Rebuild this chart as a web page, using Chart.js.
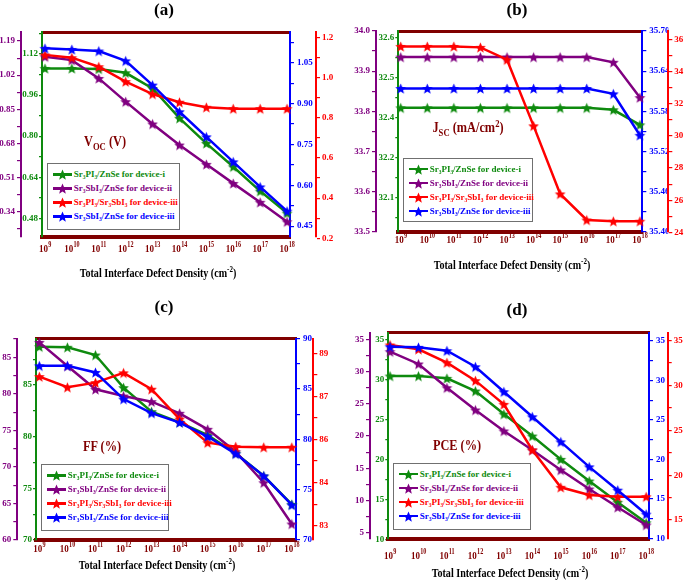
<!DOCTYPE html>
<html lang="en">
<head>
<meta charset="UTF-8">
<title>Interface defect density vs device parameters</title>
<script src="https://cdn.jsdelivr.net/npm/chart.js"></script>
<style>
  body { margin: 0; background: #fff; font-family: 'Liberation Serif', 'Times New Roman', serif; }
  #fig { position: relative; width: 685px; height: 581px; overflow: hidden; }
  .panel { position: absolute; }
  .txt { position: absolute; font-weight: bold; white-space: nowrap; transform: translate(-50%, -50%); }
  .letter { font-size: 17px; color: #000; }
  .xt { font-size: 12px; color: #000; transform: translate(-50%, -50%) scaleX(0.84); }
  .qty { font-size: 14px; color: #800000; transform: translate(-50%, -50%) scaleX(0.88); }
  .qty sub, .qty sup { font-size: 70%; }
  .legend { position: absolute; box-sizing: border-box; border: 1px solid #707070; background: #fff;
            padding: 3px 0 0 5px; font-size: 9px; font-weight: bold; }
  .legend .row { display: flex; align-items: center; height: 14px; white-space: nowrap; }
  .legend .sw { position: relative; width: 19px; height: 14px; margin-right: 2px; flex: none; }
  .legend .sw i { position: absolute; left: 0; right: 0; top: 6px; height: 2.5px; }
  .legend .sw img { position: absolute; left: 3.5px; top: 1px; }
</style>
</head>
<body>
<div id="fig">
  <div class="panel" style="left:0;top:0;width:343px;height:290px"><canvas id="ca"></canvas></div>
  <div class="panel" style="left:343px;top:0;width:342px;height:290px"><canvas id="cb"></canvas></div>
  <div class="panel" style="left:0;top:290px;width:343px;height:291px"><canvas id="cc"></canvas></div>
  <div class="panel" style="left:343px;top:290px;width:342px;height:291px"><canvas id="cd"></canvas></div>

  <div class="txt letter" style="left:164px;top:10px">(a)</div>
  <div class="txt letter" style="left:517px;top:10px">(b)</div>
  <div class="txt letter" style="left:164px;top:307px">(c)</div>
  <div class="txt letter" style="left:517px;top:310px">(d)</div>

  <div class="txt qty" style="left:105px;top:143px">V<sub>OC</sub> (V)</div>
  <div class="txt qty" style="left:468px;top:128px">J<sub>SC</sub> (mA/cm<sup>2</sup>)</div>
  <div class="txt qty" style="left:102px;top:447px">FF (%)</div>
  <div class="txt qty" style="left:457px;top:446px">PCE (%)</div>

  <div class="txt xt" style="left:158px;top:273px">Total Interface Defect Density (cm<sup style="font-size:70%">-2</sup>)</div>
  <div class="txt xt" style="left:512px;top:265px">Total Interface Defect Density (cm<sup style="font-size:70%">-2</sup>)</div>
  <div class="txt xt" style="left:157px;top:565px">Total Interface Defect Density (cm<sup style="font-size:70%">-2</sup>)</div>
  <div class="txt xt" style="left:510px;top:573px">Total Interface Defect Density (cm<sup style="font-size:70%">-2</sup>)</div>
</div>

<script>
// x values: exponent of the defect density (10^n cm^-2)
const exponents = [9, 10, 11, 12, 13, 14, 15, 16, 17, 18];
const seriesNames = [
  'Sr₃PI₃/ZnSe for device-i',
  'Sr₃SbI₃/ZnSe for device-ii',
  'Sr₃PI₃/Sr₃SbI₃ for device-iii',
  'Sr₃SbI₃/ZnSe for device-iii'
];

// (a) Voc (V)
const vocGreen  = [1.064, 1.064, 1.062, 1.047, 0.986, 0.870, 0.772, 0.681, 0.586, 0.500];
const vocPurple = [1.112, 1.095, 1.004, 0.888, 0.777, 0.672, 0.576, 0.481, 0.387, 0.290];
const vocRed    = [1.114, 1.100, 1.055, 0.981, 0.919, 0.878, 0.853, 0.846, 0.846, 0.846];
const vocBlue   = [1.103, 1.099, 1.093, 1.057, 0.968, 0.870, 0.778, 0.686, 0.594, 0.505];

// (b) Jsc (mA/cm2)
const jscGreen  = [32.380, 32.380, 32.380, 32.380, 32.380, 32.380, 32.380, 32.380, 32.374, 32.327];
const jscPurple = [33.935, 33.935, 33.935, 33.935, 33.935, 33.935, 33.935, 33.935, 33.922, 33.834];
const jscRed    = [35.58, 35.58, 35.58, 35.52, 34.75, 30.63, 26.39, 24.77, 24.69, 24.69];
const jscBlue   = [35.614, 35.614, 35.614, 35.614, 35.614, 35.614, 35.614, 35.614, 35.606, 35.544];

// (c) FF (%)
const ffGreen  = [88.71, 88.65, 87.90, 84.74, 82.42, 81.39, 80.16, 78.39, 76.19, 73.45];
const ffPurple = [87.05, 83.81, 80.62, 79.70, 78.93, 77.34, 75.15, 72.08, 67.84, 62.19];
const ffRed    = [88.19, 87.82, 87.98, 88.32, 87.75, 86.71, 85.89, 85.75, 85.73, 85.73];
const ffBlue   = [87.31, 87.31, 86.65, 84.00, 82.61, 81.67, 80.28, 78.56, 76.37, 73.48];

// (d) PCE (%)
const pceGreen  = [30.43, 30.43, 30.14, 28.56, 25.69, 22.95, 20.05, 17.35, 14.70, 12.15];
const pcePurple = [33.08, 31.17, 27.49, 24.03, 20.78, 17.83, 14.73, 11.78, 8.94, 6.19];
const pceRed    = [34.52, 34.04, 32.55, 30.54, 27.90, 22.81, 18.65, 17.79, 17.60, 17.60];
const pceBlue   = [34.28, 34.20, 33.77, 31.74, 28.58, 25.41, 22.24, 19.07, 16.12, 13.08];

// major tick values of each y axis
const vocPurpleTicks = [0.34, 0.51, 0.68, 0.85, 1.02, 1.19];
const vocGreenTicks  = [0.48, 0.64, 0.80, 0.96, 1.12];
const vocBlueTicks   = [0.45, 0.60, 0.75, 0.90, 1.05];
const vocRedTicks    = [0.2, 0.4, 0.6, 0.8, 1.0, 1.2];
const jscPurpleTicks = [33.5, 33.6, 33.7, 33.8, 33.9, 34.0];
const jscGreenTicks  = [32.1, 32.225, 32.35, 32.475, 32.6];
const jscBlueTicks   = [35.40, 35.46, 35.52, 35.58, 35.64, 35.70];
const jscRedTicks    = [24, 26, 28, 30, 32, 34, 36];
const ffPurpleTicks  = [60, 65, 70, 75, 80, 85];
const ffGreenTicks   = [70, 75, 80, 85];
const ffBlueTicks    = [70, 75, 80, 85, 90];
const ffRedTicks     = [83, 84.5, 86, 87.5, 89];
const pcePurpleTicks = [5, 10, 15, 20, 25, 30, 35];
const pceGreenTicks  = [10, 15, 20, 25, 30, 35];
const pceBlueTicks   = [10, 15, 20, 25, 30, 35];
const pceRedTicks    = [15, 20, 25, 30, 35];

const GREEN = '#0e8a0e', PURPLE = '#800080', RED = '#ff0000', BLUE = '#0000ff', MAROON = '#800000';
const SERIES_COLORS = [GREEN, PURPLE, RED, BLUE];
const FONT = "'Liberation Serif', 'Times New Roman', serif";

Chart.defaults.font.family = FONT;
Chart.defaults.font.weight = 'bold';

function makeStar(color, r) {
  const c = document.createElement('canvas');
  const s = Math.ceil(r * 2 + 1);
  c.width = s; c.height = s;
  const g = c.getContext('2d');
  g.fillStyle = color;
  g.beginPath();
  for (let i = 0; i < 10; i++) {
    const rad = i % 2 ? r * 0.45 : r;
    const a = -Math.PI / 2 + i * Math.PI / 5;
    g.lineTo(s / 2 + rad * Math.cos(a), s / 2 + 0.6 + rad * Math.sin(a));
  }
  g.closePath();
  g.fill();
  return c;
}
const stars = SERIES_COLORS.map(c => makeStar(c, 5.6));

// x tick labels "10^n": drawn at the x scale's tick pixels, exponent raised
const powerTicks = {
  id: 'powerTicks',
  afterDraw(chart, args, opts) {
    const s = chart.scales.x, ctx = chart.ctx;
    const base = chart.chartArea.bottom + opts.offset;
    ctx.save();
    ctx.fillStyle = MAROON;
    ctx.textAlign = 'left';
    ctx.textBaseline = 'alphabetic';
    exponents.forEach(e => {
      const x = s.getPixelForValue(e);
      ctx.font = 'bold 11px ' + FONT;
      const w1 = ctx.measureText('10').width;
      ctx.font = 'bold 7.5px ' + FONT;
      const w2 = ctx.measureText(String(e)).width;
      ctx.save();
      ctx.translate(x, base);
      ctx.scale(0.82, 1);
      const x0 = -(w1 + w2) / 2;
      ctx.font = 'bold 11px ' + FONT;
      ctx.fillText('10', x0, 0);
      ctx.font = 'bold 7.5px ' + FONT;
      ctx.fillText(String(e), x0 + w1 + 0.3, -5);
      ctx.restore();
    });
    ctx.restore();
  }
};

function yAxis(pos, weight, color, a, width, tickLen, pad) {
  const major = a.ticks;
  const all = major.slice();
  for (let i = 0; i < major.length - 1; i++) all.push((major[i] + major[i + 1]) / 2);
  const st = major[1] - major[0];
  if (major[0] - st / 2 >= a.min) all.push(major[0] - st / 2);
  if (major[major.length - 1] + st / 2 <= a.max) all.push(major[major.length - 1] + st / 2);
  all.sort((p, q) => p - q);
  const isMajor = v => major.some(m => Math.abs(m - v) < 1e-9);
  const fmt = a.fmt === 'floor' ? (v => String(Math.floor(v))) : (v => v.toFixed(a.fmt));
  return {
    type: 'linear', position: pos, weight: weight, min: a.min, max: a.max,
    afterBuildTicks: s => { s.ticks = all.map(v => ({ value: v })); },
    afterFit: s => { s.width = width; },
    ticks: { color: color, font: { size: 9, weight: 'bold' }, padding: pad, autoSkip: false,
             callback: v => isMajor(v) ? fmt(v) : '' },
    grid: { drawOnChartArea: false, color: color, lineWidth: 1.2, tickLength: tickLen },
    border: { color: color, width: 2 }
  };
}

function buildPanel(p) {
  const datasets = p.series.map((arr, i) => ({
    label: seriesNames[i],
    data: exponents.map((e, k) => ({ x: e, y: arr[k] })),
    yAxisID: ['yG', 'yP', 'yR', 'yB'][i],
    borderColor: SERIES_COLORS[i],
    backgroundColor: SERIES_COLORS[i],
    borderWidth: 2.5,
    pointStyle: stars[i],
    pointRadius: 5,
    tension: 0,
    clip: false,
    order: 4 - i
  }));
  const chart = new Chart(document.getElementById(p.id), {
    type: 'line',
    data: { datasets },
    plugins: [powerTicks],
    options: {
      responsive: true,
      maintainAspectRatio: false,
      animation: false,
      layout: { padding: { top: p.top, left: 0, right: 0, bottom: 0 } },
      plugins: {
        legend: { display: false },
        tooltip: { enabled: false },
        powerTicks: { offset: p.xBase }
      },
      scales: {
        x: {
          type: 'linear', position: 'bottom', min: p.xMin, max: p.xMax,
          afterBuildTicks: s => { s.ticks = exponents.map(v => ({ value: v })); },
          afterFit: s => { s.height = p.xH; },
          ticks: { display: false },
          grid: { drawOnChartArea: false, drawTicks: false },
          border: { color: MAROON, width: 4 }
        },
        xt: {
          type: 'linear', position: 'top', min: p.xMin, max: p.xMax,
          afterFit: s => { s.height = 0; },
          ticks: { display: false },
          grid: { drawOnChartArea: false, drawTicks: false },
          border: { color: MAROON, width: 3 }
        },
        yP: yAxis('left', 1, PURPLE, p.yP, p.w[0], 4, 2),
        yG: yAxis('left', 0, GREEN, p.yG, p.w[1], 3, 1),
        yB: yAxis('right', 0, BLUE, p.yB, p.w[2], 4, 3),
        yR: yAxis('right', 1, RED, p.yR, p.w[3], 4, 2)
      }
    }
  });

  // legend box inside the plot
  const fig = document.getElementById('fig');
  const box = document.createElement('div');
  box.className = 'legend';
  box.style.left = p.legend[0] + 'px';
  box.style.top = p.legend[1] + 'px';
  box.style.width = p.legend[2] + 'px';
  box.style.height = p.legend[3] + 'px';
  chart.data.datasets.forEach((ds, i) => {
    const row = document.createElement('div');
    row.className = 'row';
    row.style.color = ds.borderColor;
    row.innerHTML = '<span class="sw"><i style="background:' + ds.borderColor + '"></i><img src="' +
      stars[i].toDataURL() + '"></span><span>' + ds.label + '</span>';
    box.appendChild(row);
  });
  fig.appendChild(box);
}

buildPanel({
  id: 'ca', series: [vocGreen, vocPurple, vocRed, vocBlue],
  top: 32, w: [21, 21, 26, 27], xH: 53, xBase: 15, xMin: 8.89, xMax: 18.11,
  yP: { min: 0.214, max: 1.235, ticks: vocPurpleTicks, fmt: 2 },
  yG: { min: 0.407, max: 1.206, ticks: vocGreenTicks, fmt: 2 },
  yB: { min: 0.410, max: 1.163, ticks: vocBlueTicks, fmt: 2 },
  yR: { min: 0.2065, max: 1.228, ticks: vocRedTicks, fmt: 1 },
  legend: [46.7, 163.3, 133, 67]
});
buildPanel({
  id: 'cb', series: [jscGreen, jscPurple, jscRed, jscBlue],
  top: 31, w: [33, 22.3, 26, 16.7], xH: 58.5, xBase: 11, xMin: 8.91, xMax: 18.09,
  yP: { min: 33.5, max: 34.0, ticks: jscPurpleTicks, fmt: 1 },
  yG: { min: 31.994, max: 32.62, ticks: jscGreenTicks, fmt: 1 },
  yB: { min: 35.40, max: 35.70, ticks: jscBlueTicks, fmt: 2 },
  yR: { min: 24.05, max: 36.54, ticks: jscRedTicks, fmt: 0 },
  legend: [402.7, 157.7, 130, 64]
});
buildPanel({
  id: 'cc', series: [ffGreen, ffPurple, ffRed, ffBlue],
  top: 48.7, w: [17.3, 18.7, 17.3, 29.7], xH: 41, xBase: 11.7, xMin: 8.88, xMax: 18.15,
  yP: { min: 60, max: 87.55, ticks: ffPurpleTicks, fmt: 0 },
  yG: { min: 70, max: 89.48, ticks: ffGreenTicks, fmt: 0 },
  yB: { min: 70, max: 90, ticks: ffBlueTicks, fmt: 0 },
  yR: { min: 82.5, max: 89.51, ticks: ffRedTicks, fmt: 'floor' },
  legend: [40.7, 464, 128, 67]
});
buildPanel({
  id: 'cd', series: [pceGreen, pcePurple, pceRed, pceBlue],
  top: 42.5, w: [27, 18.3, 18.7, 17.3], xH: 42.5, xBase: 20, xMin: 8.94, xMax: 18.1,
  yP: { min: 4.10, max: 36.05, ticks: pcePurpleTicks, fmt: 0 },
  yG: { min: 10.19, max: 35.85, ticks: pceGreenTicks, fmt: 0 },
  yB: { min: 10, max: 36.08, ticks: pceBlueTicks, fmt: 0 },
  yR: { min: 12.94, max: 35.91, ticks: pceRedTicks, fmt: 0 },
  legend: [392.7, 462.7, 138, 67]
});
</script>
</body>
</html>
